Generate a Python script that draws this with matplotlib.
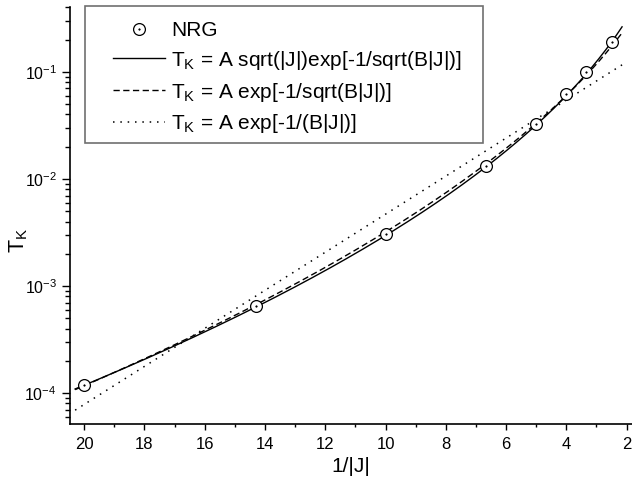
import numpy as np
import matplotlib
matplotlib.use("Agg")
import matplotlib.pyplot as plt
from matplotlib.patches import Rectangle
from matplotlib.ticker import MultipleLocator, LogLocator, NullFormatter
from matplotlib.legend_handler import HandlerTuple

plt.rcParams["font.family"] = ["Liberation Sans", "DejaVu Sans"]
plt.rcParams["mathtext.fontset"] = "custom"
plt.rcParams["mathtext.rm"] = "Liberation Sans"
plt.rcParams["mathtext.it"] = "Liberation Sans:italic"
plt.rcParams["mathtext.bf"] = "Liberation Sans:bold"

# NRG Kondo temperatures versus inverse coupling 1/|J|
inv_J = [20.0, 14.2857, 10.0, 6.6667, 5.0, 4.0, 3.3333, 2.5]
tk_nrg = [1.2e-4, 6.55e-4, 3.06e-3, 1.32e-2, 3.27e-2, 6.26e-2, 0.100, 0.192]

# fitted parameters (A, B) of the three analytic forms
A_sqrt, B_sqrt = 9.65, 0.2077          # A sqrt(|J|) exp[-1/sqrt(B|J|)]
A_exp_sqrt, B_exp_sqrt = 9.39, 0.1568  # A exp[-1/sqrt(B|J|)]
A_exp, B_exp = 0.2806, 2.443           # A exp[-1/(B|J|)]

x_fit = np.linspace(20.3, 2.15, 400)
J_fit = 1.0 / x_fit
tk_sqrt = A_sqrt * np.sqrt(J_fit) * np.exp(-1.0 / np.sqrt(B_sqrt * J_fit))
tk_exp_sqrt = A_exp_sqrt * np.exp(-1.0 / np.sqrt(B_exp_sqrt * J_fit))
tk_exp = A_exp * np.exp(-1.0 / (B_exp * J_fit))

fig = plt.figure(figsize=(6.32, 4.83), dpi=100)
ax = fig.add_axes([70 / 632, 59 / 483, 562 / 632, 417 / 483])

DASHED = (0, (4.5, 2.5))
DOTTED = (0, (1, 3.8))

ax.plot(x_fit, tk_sqrt, color="black", lw=1.0, ls="-")
ax.plot(x_fit, tk_exp_sqrt, color="black", lw=1.0, ls=DASHED)
ax.plot(x_fit, tk_exp, color="black", lw=1.1, ls=DOTTED)
circ, = ax.plot(inv_J, tk_nrg, ls="none", marker="o", ms=8.5, mfc="white",
                mec="black", mew=0.9, zorder=5)
dot, = ax.plot(inv_J, tk_nrg, ls="none", marker="o", ms=1.2, mfc="black",
               mec="black", mew=0.3, zorder=6)

ax.set_yscale("log")
ax.set_xlim(20.47, 1.82)
ax.set_ylim(5.13e-5, 0.404)

for side in ("top", "right"):
    ax.spines[side].set_visible(False)
for side in ("left", "bottom"):
    ax.spines[side].set_linewidth(1.2)

ax.xaxis.set_major_locator(MultipleLocator(2))
ax.xaxis.set_minor_locator(MultipleLocator(1))
ax.yaxis.set_major_locator(LogLocator(base=10, numticks=10))
ax.yaxis.set_minor_locator(LogLocator(base=10, subs=np.arange(2, 10), numticks=10))
ax.yaxis.set_minor_formatter(NullFormatter())

ax.tick_params(axis="x", which="major", direction="out", length=4, width=1.0,
               labelsize=12, pad=5.5)
ax.tick_params(axis="x", which="minor", direction="out", length=2.5, width=1.0)
ax.tick_params(axis="y", which="major", direction="out", length=6, width=1.0,
               labelsize=11.5, pad=3.5)
ax.tick_params(axis="y", which="minor", direction="out", length=3.5, width=1.0)

ax.set_xlabel("1/|J|", fontsize=15)
ax.xaxis.set_label_coords(0.5, -0.078)
ax.set_ylabel(r"T$_\mathrm{K}$", fontsize=15.5)
ax.yaxis.set_label_coords(-0.072, 0.44)

l_sqrt, = ax.plot([], [], color="black", lw=1.0, ls="-")
l_exp_sqrt, = ax.plot([], [], color="black", lw=1.0, ls=DASHED)
l_exp, = ax.plot([], [], color="black", lw=1.1, ls=DOTTED)

leg = ax.legend(
    [(circ, dot), l_sqrt, l_exp_sqrt, l_exp],
    ["NRG",
     r"T$_\mathrm{K}$ = A sqrt(|J|)exp[-1/sqrt(B|J|)]",
     r"T$_\mathrm{K}$ = A exp[-1/sqrt(B|J|)]",
     r"T$_\mathrm{K}$ = A exp[-1/(B|J|)]"],
    handler_map={tuple: HandlerTuple(ndivide=1, pad=0)},
    loc="upper left", bbox_to_anchor=(113 / 632, 1 - 21 / 483),
    bbox_transform=fig.transFigure, borderaxespad=0, borderpad=0,
    fontsize=15, handlelength=2.5, handletextpad=0.3, labelspacing=0.42,
    frameon=False,
)

# legend frame
fig.add_artist(Rectangle((85 / 632, 1 - 143 / 483), 398 / 632, 137 / 483,
                         transform=fig.transFigure, fill=False,
                         edgecolor="#707070", linewidth=1.2))

fig.savefig("out.png", dpi=100)
